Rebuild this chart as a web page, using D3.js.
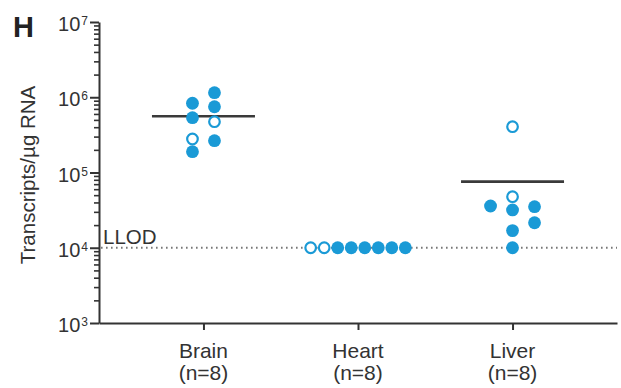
<!DOCTYPE html>
<html>
<head>
<meta charset="utf-8">
<script src="https://cdn.jsdelivr.net/npm/d3@7"></script>
<style>
  html, body { margin: 0; padding: 0; background: #fff; }
  svg { display: block; font-family: "Liberation Sans", Arial, Helvetica, sans-serif; }
</style>
</head>
<body>
<svg id="chart" width="621" height="388"></svg>
<script>
// Tissue groups and group sizes
const categories = ["Brain", "Heart", "Liver"];
const sampleSizes = [8, 8, 8];

// Transcripts per µg RNA, one value per animal (hollow = second cohort)
const brainValues = [1150000, 832000, 748000, 535000, 473000, 265000, 279000, 189000];
const brainHollow = [0, 0, 0, 0, 1, 0, 1, 0];
const heartValues = [10000, 10000, 10000, 10000, 10000, 10000, 10000, 10000];
const heartHollow = [0, 0, 0, 0, 1, 1, 0, 0];
const liverValues = [406000, 47700, 31800, 35900, 35100, 16900, 21500, 10000];
const liverHollow = [1, 1, 0, 0, 0, 0, 0, 0];

// Lower limit of detection
const llod = 10000;

// Log axis decades (exponents of ten shown as tick labels)
const tickExponents = [3, 4, 5, 6, 7];

const groups = [
  { name: categories[0], n: sampleSizes[0], values: brainValues, hollow: brainHollow },
  { name: categories[1], n: sampleSizes[1], values: heartValues, hollow: heartHollow },
  { name: categories[2], n: sampleSizes[2], values: liverValues, hollow: liverHollow }
];

const svg = d3.select("#chart");
const ink = "#333333";
const dotColor = "#1a9ad6";

const plot = { left: 99, right: 617, top: 22, bottom: 323 };

const y = d3.scaleLog()
  .domain([Math.pow(10, d3.min(tickExponents)), Math.pow(10, d3.max(tickExponents))])
  .range([plot.bottom, plot.top]);

const x = d3.scalePoint()
  .domain(categories)
  .range([plot.left, plot.right])
  .padding(0.676);

// Minor ticks: 2..9 × each decade
const majorTicks = tickExponents.map(e => Math.pow(10, e));
const minorTicks = [];
tickExponents.slice(0, -1).forEach(e => {
  for (let m = 2; m <= 9; m++) minorTicks.push(m * Math.pow(10, e));
});

// Panel letter
svg.append("text")
  .attr("x", 13).attr("y", 37)
  .attr("font-size", 29).attr("font-weight", "bold")
  .attr("fill", "#222")
  .text("H");

// Y axis: minor ticks, then major ticks with domain line
const yMinor = svg.append("g")
  .attr("transform", `translate(${plot.left},0)`)
  .call(d3.axisLeft(y).tickValues(minorTicks).tickSize(5).tickSizeOuter(0).tickFormat(""));
yMinor.select(".domain").remove();
yMinor.selectAll(".tick line").attr("stroke", ink).attr("stroke-width", 1.6);

const yMajor = svg.append("g")
  .attr("transform", `translate(${plot.left},0)`)
  .call(d3.axisLeft(y).tickValues(majorTicks).tickSize(9).tickSizeOuter(0).tickFormat(""));
yMajor.select(".domain").attr("stroke", ink).attr("stroke-width", 2);
yMajor.selectAll(".tick line").attr("stroke", ink).attr("stroke-width", 2);

// Tick labels as 10 with superscript exponent
const yLabels = svg.append("g");
tickExponents.forEach(e => {
  const t = yLabels.append("text")
    .attr("x", 88)
    .attr("y", y(Math.pow(10, e)) + 9)
    .attr("text-anchor", "end")
    .attr("fill", ink)
    .attr("font-size", 20);
  t.append("tspan").text("10");
  t.append("tspan").attr("font-size", 12).attr("dy", -6).attr("dx", 1).text(String(e));
});

// Y axis title
svg.append("text")
  .attr("transform", `translate(35,175) rotate(-90)`)
  .attr("text-anchor", "middle")
  .attr("font-size", 20.5)
  .attr("fill", ink)
  .text("Transcripts/µg RNA");

// X axis
const xAxis = svg.append("g")
  .attr("transform", `translate(0,${plot.bottom})`)
  .call(d3.axisBottom(x).tickSize(7).tickSizeOuter(0).tickFormat(""));
xAxis.select(".domain").attr("stroke", ink).attr("stroke-width", 2);
xAxis.selectAll(".tick line").attr("stroke", ink).attr("stroke-width", 2);

const xLabels = svg.append("g");
groups.forEach(g => {
  const t = xLabels.append("text")
    .attr("text-anchor", "middle")
    .attr("fill", ink)
    .attr("font-size", 21);
  t.append("tspan").attr("x", x(g.name)).attr("y", 358).text(g.name);
  t.append("tspan").attr("x", x(g.name)).attr("y", 380).text(`(n=${g.n})`);
});

// LLOD reference line and label
svg.append("line")
  .attr("x1", plot.left + 2).attr("x2", plot.right)
  .attr("y1", y(llod)).attr("y2", y(llod))
  .attr("stroke", "#777")
  .attr("stroke-width", 2)
  .attr("stroke-dasharray", "1.6,3.4");
svg.append("text")
  .attr("x", 103).attr("y", y(llod) - 4)
  .attr("font-size", 20.5)
  .attr("fill", ink)
  .text("LLOD");

// Swarm layout: each point takes the nearest free lane, preferring the side used last
const laneWidth = 22;
const minGap = 12;
const maxSpread = x.step() * 0.7;

function swarmLanes(ys) {
  const placed = [];
  let lastSide = -1;
  return ys.map(py => {
    const fits = k => placed.every(p => Math.hypot((p.lane - k) * laneWidth, p.y - py) >= minGap);
    let lane = 0;
    if (!fits(0)) {
      for (let m = 1; m < 50; m++) {
        if (fits(lastSide * m)) { lane = lastSide * m; break; }
        if (fits(-lastSide * m)) { lane = -lastSide * m; break; }
      }
    }
    if (lane !== 0) lastSide = Math.sign(lane);
    placed.push({ lane, y: py });
    return lane;
  });
}

const r = 6.4;
const meanHalfWidth = 51.5;

groups.forEach(g => {
  const ys = g.values.map(v => y(v));
  const lanes = swarmLanes(ys);
  const lo = d3.min(lanes), hi = d3.max(lanes);
  const mid = (lo + hi) / 2;
  const w = Math.min(laneWidth, maxSpread / (hi - lo + 1));
  const cx = x(g.name);

  // Group mean (shown when above the detection limit)
  const mean = d3.mean(g.values);
  if (mean > llod * 1.01) {
    svg.append("line")
      .attr("x1", cx - meanHalfWidth).attr("x2", cx + meanHalfWidth)
      .attr("y1", y(mean)).attr("y2", y(mean))
      .attr("stroke", "#3a3a3a")
      .attr("stroke-width", 2.6);
  }

  const pts = g.values.map((v, i) => ({ v, hollow: g.hollow[i], dx: (lanes[i] - mid) * w }));
  svg.append("g").selectAll("circle")
    .data(pts)
    .join("circle")
    .attr("cx", d => cx + d.dx)
    .attr("cy", d => y(d.v))
    .attr("r", d => d.hollow ? r - 1.1 : r)
    .attr("fill", d => d.hollow ? "#fff" : dotColor)
    .attr("stroke", d => d.hollow ? dotColor : "none")
    .attr("stroke-width", 2.2);
});
</script>
</body>
</html>
